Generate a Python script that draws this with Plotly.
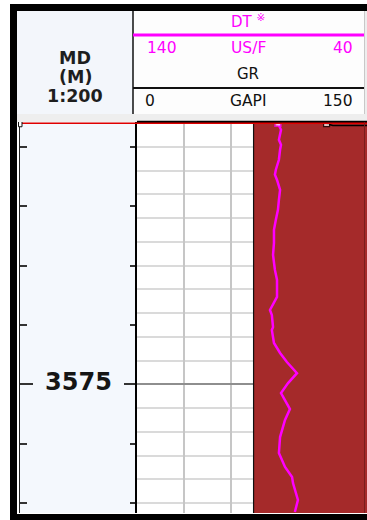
import plotly.graph_objects as go

W, H = 367, 520

# ---- log data -------------------------------------------------------------
# DT sonic curve, measured depth (m) and slowness (US/F)
dt_depth = [3564.00, 3564.28, 3564.70, 3564.91, 3565.12, 3565.54, 3565.96, 3566.17,
            3566.39, 3566.81, 3567.23, 3567.65, 3568.07, 3568.49, 3569.04, 3569.55,
            3570.18, 3570.60, 3571.32, 3571.57, 3571.87, 3572.08, 3572.59, 3572.71,
            3573.26, 3573.68, 3574.06, 3574.53, 3574.95, 3575.37, 3576.04, 3576.50,
            3577.22, 3577.89, 3578.48, 3578.90, 3579.16, 3579.87, 3580.38]
dt_value = [80.0, 78.7, 79.6, 78.7, 79.1, 79.6, 80.9, 81.3,
            80.4, 79.1, 79.6, 80.0, 80.9, 81.7, 81.7, 82.1,
            81.3, 80.4, 80.4, 81.7, 83.4, 82.6, 82.1, 82.6,
            81.7, 79.1, 76.2, 71.9, 75.7, 78.7, 74.9, 77.0,
            79.1, 79.6, 77.0, 74.0, 73.6, 71.5, 72.8]

# GR curve (GAPI) - only its first samples fall inside the window
gr_depth = [3564.02, 3564.10, 3564.10]
gr_value = [121.0, 125.0, 170.0]

# shaded GR band: left edge value and the track's far edge (GAPI)
fill_depth = [3563.95, 3580.45]
fill_left = [74.4, 74.4]
fill_right = [150.0, 150.0]

# depth annotations and the top marker
depth_labels = [3575]
top_marker_depth = 3564.0

# axis ranges
depth_range = [3580.42, 3563.95]
gr_range = [0, 146.8]
dt_range = [140, 42.1]

# header texts
depth_header = ["MD", "(M)", "1:200"]
dt_header = {"name": "DT <sup>※</sup>", "unit": "US/F", "left": "140", "right": "40"}
gr_header = {"name": "GR", "unit": "GAPI", "left": "0", "right": "150"}

MAGENTA = "#ff00ff"
BROWN = "#a52a2a"
FONT = "DejaVu Sans"


def px(x):
    return x / W


def py(y):
    return 1 - y / H


track_domain_y = [py(513), py(122)]

fig = go.Figure()

# depth labels in the depth track
fig.add_trace(go.Scatter(
    x=[0.5] * len(depth_labels), y=depth_labels, mode="text",
    text=[str(d) for d in depth_labels],
    textfont=dict(family=FONT, size=24, color="#151515", weight="bold"),
    xaxis="x", yaxis="y", hoverinfo="skip", showlegend=False))
# keeps the right-hand depth tick axis alive
fig.add_trace(go.Scatter(
    x=[0.5], y=[depth_range[0]], mode="markers", marker=dict(opacity=0),
    xaxis="x", yaxis="y3", hoverinfo="skip", showlegend=False))

# shaded GR band
fig.add_trace(go.Scatter(
    x=fill_right, y=fill_depth, mode="lines", line=dict(width=0, color=BROWN),
    xaxis="x2", yaxis="y2", hoverinfo="skip", showlegend=False))
fig.add_trace(go.Scatter(
    x=fill_left, y=fill_depth, mode="lines", fill="tonextx", fillcolor=BROWN,
    line=dict(width=1.2, color="#111"),
    xaxis="x2", yaxis="y2", hoverinfo="skip", showlegend=False))

# GR curve
fig.add_trace(go.Scatter(
    x=gr_value, y=gr_depth, mode="lines+markers",
    line=dict(width=1.6, color="#000"),
    marker=dict(symbol="square", size=[6, 0, 0], color="white",
                line=dict(color="#000", width=1.2)),
    xaxis="x2", yaxis="y2", hoverinfo="skip", showlegend=False))

# DT curve
fig.add_trace(go.Scatter(
    x=dt_value, y=dt_depth, mode="lines+markers",
    line=dict(width=2.5, color=MAGENTA),
    marker=dict(symbol="square", size=[6] + [0] * (len(dt_value) - 1), color="white",
                line=dict(color=MAGENTA, width=1.5)),
    xaxis="x3", yaxis="y2", hoverinfo="skip", showlegend=False))

depth_ticks = dict(
    range=depth_range, domain=track_domain_y, showticklabels=False,
    showgrid=False, zeroline=False, ticks="inside", tick0=3575, dtick=25,
    ticklen=13, tickwidth=2, tickcolor="#333",
    minor=dict(ticks="inside", tick0=3575, dtick=2.5, ticklen=7,
               tickwidth=2, tickcolor="#333"))

shapes = []


def rect(x0, y0, x1, y1, color, layer="below"):
    shapes.append(dict(type="rect", xref="paper", yref="paper",
                       x0=px(x0), x1=px(x1), y0=py(y0), y1=py(y1),
                       fillcolor=color, line=dict(width=0), layer=layer))


def hline(x0, x1, y, color, width, layer="above"):
    shapes.append(dict(type="line", xref="paper", yref="paper",
                       x0=px(x0), x1=px(x1), y0=py(y), y1=py(y),
                       line=dict(color=color, width=width), layer=layer))


def vline(x, y0, y1, color, width, layer="above"):
    shapes.append(dict(type="line", xref="paper", yref="paper",
                       x0=px(x), x1=px(x), y0=py(y0), y1=py(y1),
                       line=dict(color=color, width=width), layer=layer))


# header area
rect(17, 10, 367, 122, "#eeeeee")
rect(17, 10, 133, 114, "#f3f6fb")
rect(133, 10, 364, 114, "#fdfdfd")
vline(133, 10, 114, "#111", 1.5)
vline(364.5, 10, 114, "#c8c8c8", 1)
hline(133, 364, 35, MAGENTA, 3)
hline(133, 364, 88, "#111", 2)

# depth track background
shapes.append(dict(type="rect", xref="x domain", yref="y domain", x0=0, x1=1,
                   y0=0, y1=1, fillcolor="#f4f8fd", line=dict(width=0), layer="below"))

# top edge of the log track and the top marker line
hline(137, 367, 122, "#000", 2.5)
shapes.append(dict(type="line", xref="paper", yref="y", x0=px(19), x1=1,
                   y0=top_marker_depth, y1=top_marker_depth,
                   line=dict(color="#e00000", width=1.5), layer="above"))
shapes.append(dict(type="rect", xref="paper", yref="y", x0=px(18.5), x1=px(22),
                   y0=top_marker_depth - 0.15, y1=top_marker_depth + 0.15,
                   fillcolor="white", line=dict(color="#111", width=1), layer="above"))
# right edge of the log track
vline(364.5, 122, 513, "#7a1c1c", 1)

# frame
rect(10, 4, 367, 11, "#000", "above")
rect(10, 4, 17, 520, "#000", "above")
rect(10, 514, 367, 520, "#000", "above")

annotations = []


def text(x, y, s, color, size, anchor="center", bold=False):
    annotations.append(dict(
        xref="paper", yref="paper", x=px(x), y=py(y), text=s, showarrow=False,
        xanchor=anchor, yanchor="middle",
        font=dict(family=FONT, size=size, color=color,
                  weight="bold" if bold else "normal")))


for s, y in zip(depth_header, [58, 77, 96]):
    text(75, y, s, "#1e1e1e", 17.5, bold=True)

text(248.5, 21, dt_header["name"], MAGENTA, 15)
text(145, 48, dt_header["left"], MAGENTA, 15.5, "left")
text(248.5, 48, dt_header["unit"], MAGENTA, 15.5)
text(355, 48, dt_header["right"], MAGENTA, 15.5, "right")
text(248.5, 74, gr_header["name"], "#111", 15)
text(143, 101, gr_header["left"], "#111", 15.5, "left")
text(248.5, 101, gr_header["unit"], "#111", 15.5)
text(355, 101, gr_header["right"], "#111", 15.5, "right")

fig.update_layout(
    width=W, height=H, margin=dict(l=0, r=0, t=0, b=0),
    paper_bgcolor="white", plot_bgcolor="white", showlegend=False,
    xaxis=dict(domain=[px(20), px(137)], range=[0, 1], visible=False,
               anchor="y", fixedrange=True),
    yaxis=dict(anchor="x", side="left", showline=True, linecolor="#222",
               linewidth=1, **depth_ticks),
    yaxis3=dict(anchor="x", side="right", overlaying="y", showline=False,
                **depth_ticks),
    xaxis2=dict(domain=[px(137), 1], range=gr_range, anchor="y2",
                showgrid=True, gridcolor="#c6c6c6", gridwidth=2, tick0=0, dtick=30,
                showticklabels=False, ticks="", zeroline=False, showline=False),
    yaxis2=dict(anchor="x2", range=depth_range, domain=track_domain_y,
                showgrid=True, tick0=3575, dtick=25, gridcolor="#8e8e8e", gridwidth=2,
                minor=dict(dtick=1, tick0=3575, showgrid=True,
                           gridcolor="#dadada", gridwidth=2),
                showticklabels=False, ticks="", zeroline=False,
                showline=True, linecolor="#000", linewidth=2),
    xaxis3=dict(overlaying="x2", anchor="y2", range=dt_range, visible=False),
    shapes=shapes, annotations=annotations,
)

fig.write_html("out.html")
